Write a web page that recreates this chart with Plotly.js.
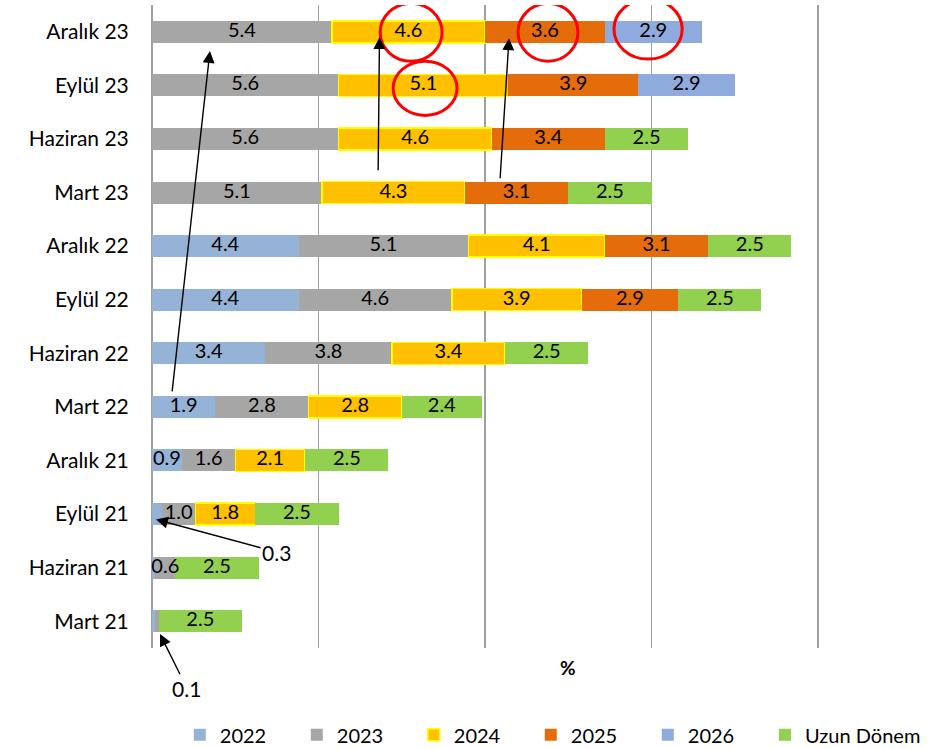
<!DOCTYPE html>
<html>
<head>
<meta charset="utf-8">
<script src="https://cdn.plot.ly/plotly-3.0.1.min.js"></script>
<style>html,body{margin:0;padding:0;background:#fff;}#chart{width:946px;height:749px;}</style>
</head>
<body>
<div id="chart"></div>
<script>
const categories = ['Mart 21','Haziran 21','Eylül 21','Aralık 21','Mart 22','Haziran 22','Eylül 22','Aralık 22','Mart 23','Haziran 23','Eylül 23','Aralık 23'];
const s2022 = [0.1, 0.1, 0.3, 0.9, 1.9, 3.4, 4.4, 4.4, null, null, null, null];
const s2023 = [0.1, 0.6, 1.0, 1.6, 2.8, 3.8, 4.6, 5.1, 5.1, 5.6, 5.6, 5.4];
const s2024 = [null, null, 1.8, 2.1, 2.8, 3.4, 3.9, 4.1, 4.3, 4.6, 5.1, 4.6];
const s2025 = [null, null, null, null, null, null, 2.9, 3.1, 3.1, 3.4, 3.9, 3.6];
const s2026 = [null, null, null, null, null, null, null, null, null, null, 2.9, 2.9];
const sUzun = [2.5, 2.5, 2.5, 2.5, 2.4, 2.5, 2.5, 2.5, 2.5, 2.5, null, null];
const seriesNames = ['2022','2023','2024','2025','2026','Uzun Dönem'];
// labels not drawn inside the bar (too small)
const hiddenLabels = {'2022': ['Mart 21','Haziran 21','Eylül 21'], '2023': ['Mart 21']};

const FONT = 'Lato, "Open Sans", sans-serif';
const colors = ['#95B3D7','#A6A6A6','#FFC000','#E46C0A','#8FAADC','#92D050'];
const allSeries = [s2022, s2023, s2024, s2025, s2026, sUzun];

const traces = allSeries.map((vals, i) => {
  const name = seriesNames[i];
  return {
    type: 'bar',
    orientation: 'h',
    name: name,
    legend: i === allSeries.length - 1 ? 'legend2' : 'legend',
    y: categories,
    x: vals,
    marker: {color: colors[i], line: {color: name === '2024' ? '#FFFF00' : 'rgba(0,0,0,0)', width: name === '2024' ? 1.5 : 0}},
    hoverinfo: 'skip'
  };
});

// value labels drawn on top of all bars, centred in each stacked segment
const lblX = [], lblY = [], lblT = [];
categories.forEach((c, j) => {
  let base = 0;
  allSeries.forEach((vals, i) => {
    const v = vals[j];
    if (v == null) return;
    const hide = hiddenLabels[seriesNames[i]] || [];
    if (!hide.includes(c)) { lblX.push(base + v / 2); lblY.push(c); lblT.push(v.toFixed(1)); }
    base += v;
  });
});
traces.push({type: 'scatter', mode: 'text', x: lblX, y: lblY, text: lblT, textposition: 'middle center',
  textfont: {family: FONT, size: 20, color: '#000'}, showlegend: false, hoverinfo: 'skip', cliponaxis: false});

const arrowStyle = {showarrow: true, arrowhead: 2, arrowsize: 1.7, arrowwidth: 1.4, arrowcolor: '#000', text: '', xref: 'x', yref: 'y', axref: 'x', ayref: 'y'};
const annotations = [
  Object.assign({}, arrowStyle, {x: 1.74, y: 10.64, ax: 0.6, ay: 4.26}),
  Object.assign({}, arrowStyle, {x: 6.83, y: 10.9, ax: 6.79, ay: 8.39}),
  Object.assign({}, arrowStyle, {x: 10.72, y: 10.88, ax: 10.45, ay: 8.24}),
  Object.assign({}, arrowStyle, {text: '0.3', x: 0.12, y: 1.9, ax: 3.74, ay: 1.29, font: {family: FONT, size: 21, color: '#000'}}),
  Object.assign({}, arrowStyle, {text: '0.1', x: 0.24, y: -0.24, ax: 1.05, ay: -1.25, font: {family: FONT, size: 21, color: '#000'}}),
  {text: '<b>%</b>', x: 12.5, xref: 'x', y: -0.031, yref: 'paper', yanchor: 'middle', xanchor: 'center', showarrow: false,
   font: {family: FONT, size: 19, color: '#000'}}
];

const circ = (x0, x1, y0, y1) => ({type: 'circle', xref: 'x', yref: 'y', x0, x1, y0, y1, line: {color: '#FF0000', width: 3}});
const shapes = [
  circ(6.85, 8.71, 10.45, 11.53),
  circ(10.99, 12.79, 10.45, 11.53),
  circ(13.87, 15.92, 10.49, 11.61),
  circ(7.24, 9.16, 9.44, 10.45)
];

const legendCommon = {orientation: 'h', traceorder: 'normal', xanchor: 'left', y: -0.135, yanchor: 'middle',
  font: {family: FONT, size: 20, color: '#000'}, bgcolor: 'rgba(0,0,0,0)'};

const layout = {
  width: 946, height: 749,
  margin: {l: 152, r: 0, t: 5, b: 101, autoexpand: false},
  paper_bgcolor: '#fff', plot_bgcolor: '#fff',
  barmode: 'stack',
  bargap: 0.59,
  font: {family: FONT, color: '#000'},
  xaxis: {range: [0, 23.84], dtick: 5, tick0: 0, showticklabels: false, showgrid: true, gridcolor: '#A0A0A0', gridwidth: 1.5,
          zeroline: true, zerolinecolor: '#A0A0A0', zerolinewidth: 1.5, fixedrange: true},
  yaxis: {type: 'category', categoryorder: 'array', categoryarray: categories, range: [-0.5, 11.5], autorange: false,
          showgrid: false, zeroline: false, showline: false,
          ticks: 'outside', ticklen: 18, tickcolor: 'rgba(0,0,0,0)', tickfont: {family: FONT, size: 21, color: '#000'}, fixedrange: true},
  showlegend: true,
  legend: Object.assign({}, legendCommon, {x: 0.035, entrywidth: 72, entrywidthmode: 'pixels'}),
  legend2: Object.assign({}, legendCommon, {x: 0.772}),
  annotations: annotations,
  shapes: shapes
};

Plotly.newPlot('chart', traces, layout, {displayModeBar: false, staticPlot: true});
</script>
</body>
</html>
